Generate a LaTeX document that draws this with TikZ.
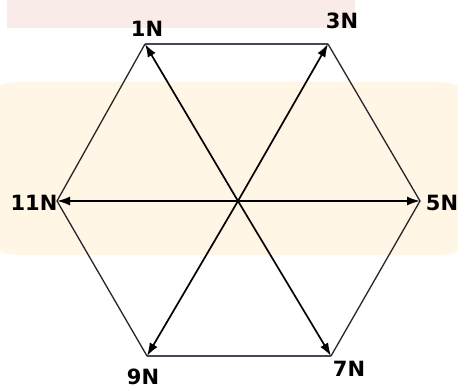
\documentclass[tikz,border=0pt]{standalone}
\usepackage{fontspec}
\setsansfont{DejaVu Sans}
\usetikzlibrary{arrows.meta}
\definecolor{rimc}{HTML}{4A4456}
\definecolor{wmpink}{HTML}{F9EBE8}
\definecolor{wmcream}{HTML}{FFF6E6}
\tikzset{
  side/.style={draw=black!85, line width=1.3pt},
  rim/.style={draw=rimc, line width=1.5pt},
  force/.style={-{Latex[length=13pt,width=9pt]}, line width=1.7pt},
  tag/.style={font=\sffamily\bfseries\fontsize{21}{25}\selectfont, inner sep=0pt},
}

\begin{document}
\begin{tikzpicture}[x=1pt, y=-1pt]
% page
\useasboundingbox (0,0) rectangle (458,390);
\fill[white] (0,0) rectangle (458,390);
\fill[wmpink] (7,0) rectangle (355,28);
\fill[wmcream, rounded corners=60pt] (-40,82) rectangle (498,255);

% the centre and the corners of the hexagon
\coordinate (o) at (238,201);
\coordinate (v1) at (145,44);
\coordinate (v3) at (328,44);
\coordinate (v5) at (420,201);
\coordinate (v7) at (331,356);
\coordinate (v9) at (147,356);
\coordinate (v11) at (57,201);

% labels
\node[tag] (l1) at (147,29) {1N};
\node[tag] (l3) at (342,21) {3N};
\node[tag] (l5) at (442,203) {5N};
\node[tag] (l7) at (349,369) {7N};
\node[tag] (l9) at (143,377) {9N};
\node[tag] (l11) at (34,203) {11N};

% rim
\draw[side] (v1) -- (v11) -- (v9);
\draw[side] (v3) -- (v5) -- (v7);
\draw[rim] (v1) -- (v3);
\draw[rim] (v9) -- (v7);

% forces from the centre
\foreach \v in {1,3,5,7,9,11}
  \draw[force] (o) -- (v\v);
\end{tikzpicture}
\end{document}
